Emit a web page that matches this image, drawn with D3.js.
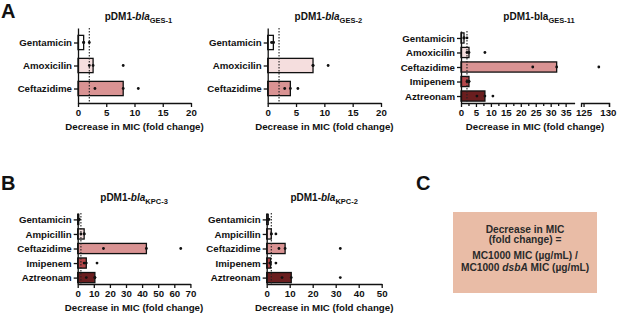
<!DOCTYPE html>
<html>
<head>
<meta charset="utf-8">
<script src="https://cdn.jsdelivr.net/npm/d3@7"></script>
<style>
  body { margin: 0; background: #fff; }
  svg text { font-family: "Liberation Sans", Arial, sans-serif; font-weight: bold; fill: #111; }
</style>
</head>
<body>
<svg id="fig" width="617" height="313"></svg>
<script>
// --- Datos ---
const gesDrugs = ["Gentamicin", "Amoxicilin", "Ceftazidime"];
const ges11Drugs = ["Gentamicin", "Amoxicilin", "Ceftazidime", "Imipenem", "Aztreonam"];
const kpcDrugs = ["Gentamicin", "Ampicillin", "Ceftazidime", "Imipenem", "Aztreonam"];

const ges1Median = [1, 2.67, 8];
const ges1Points = [[1, 1, 2], [2, 2.67, 8], [3, 8, 10.67]];

const ges2Median = [1, 8, 4];
const ges2Points = [[0.67, 1, 1], [8, 8, 10.67], [3, 4, 5.33]];

const ges11Median = [1, 2.67, 32, 2.67, 8];
const ges11Points = [[1, 1, 2], [2, 2.67, 8], [24, 32, 128], [2, 2.67, 2.67], [5.33, 8, 10.67]];

const kpc3Median = [0.67, 4, 42.67, 5.33, 10.67];
const kpc3Points = [[0.5, 0.67, 1], [2, 4, 4], [16, 42.67, 64], [4, 5.33, 12], [5.33, 10.67, 10.67]];

const kpc2Median = [0.67, 2, 8, 1.67, 10.67];
const kpc2Points = [[0.5, 0.67, 1], [2, 2, 4], [5.33, 8, 32], [1.33, 1.67, 4], [6.67, 10.67, 32]];

const ticks20 = [0, 5, 10, 15, 20];
const ticks70 = [0, 10, 20, 30, 40, 50, 60, 70];
const ticks50 = [0, 10, 20, 30, 40, 50];
const ticksLow = [0, 5, 10, 15, 20, 25, 30, 35];
const ticksHigh = [125, 130];
const cutoff = 2;

const fillByDrug = {
    Gentamicin: "#ffffff",
    Amoxicilin: "#f5dede",
    Ampicillin: "#f5dede",
    Ceftazidime: "#d99393",
    Imipenem: "#b4474a",
    Aztreonam: "#6a1e1f"
};

const svg = d3.select("#fig");

// --- Panel genérico ---
function drawPanel(cfg) {
    const g = svg.append("g");

    const y = d3.scalePoint()
        .domain(cfg.drugs)
        .range([cfg.top, cfg.bottom])
        .padding(cfg.pad);
    const barH = y.step() * cfg.barFrac;

    // escala x (con corte opcional)
    const x1 = d3.scaleLinear().domain(cfg.domain).range([cfg.left, cfg.right]);
    const x2 = cfg.domain2 ? d3.scaleLinear().domain(cfg.domain2).range(cfg.range2) : null;
    const xv = v => (x2 && v > cfg.domain[1]) ? x2(v) : x1(v);

    // barras
    g.selectAll("rect.bar")
        .data(cfg.drugs)
        .enter().append("rect")
        .attr("x", x1(0))
        .attr("y", d => y(d) - barH / 2)
        .attr("width", (d, i) => xv(cfg.median[i]) - x1(0))
        .attr("height", barH)
        .attr("fill", d => fillByDrug[d])
        .attr("stroke", "#111")
        .attr("stroke-width", 1.3);

    // línea de corte
    g.append("line")
        .attr("x1", x1(cutoff)).attr("x2", x1(cutoff))
        .attr("y1", cfg.top).attr("y2", cfg.bottom)
        .attr("stroke", "#222")
        .attr("stroke-width", 1.1)
        .attr("stroke-dasharray", "1.5,1.5");

    // puntos individuales
    const pts = [];
    cfg.points.forEach((arr, i) => arr.forEach(v => pts.push({ d: cfg.drugs[i], v })));
    g.selectAll("circle.pt")
        .data(pts)
        .enter().append("circle")
        .attr("cx", p => xv(p.v))
        .attr("cy", p => y(p.d))
        .attr("r", 1.4)
        .attr("fill", "#111");

    // ejes
    const yAxis = g.append("g")
        .attr("transform", `translate(${cfg.left},0)`)
        .call(d3.axisLeft(y).tickSize(4).tickSizeOuter(0).tickPadding(2));
    yAxis.selectAll("text").style("font-size", "9.7px");

    const xAxis = g.append("g")
        .attr("transform", `translate(0,${cfg.bottom})`)
        .call(d3.axisBottom(x1).tickValues(cfg.ticks).tickSize(4).tickSizeOuter(0).tickPadding(2));
    xAxis.selectAll("text").style("font-size", "9.7px");

    if (cfg.minor) {
        g.append("g")
            .attr("transform", `translate(0,${cfg.bottom})`)
            .call(d3.axisBottom(x1).tickValues(cfg.minor).tickSize(3).tickSizeOuter(0).tickFormat(""))
            .select(".domain").remove();
    }
    if (x2) {
        const xAxis2 = g.append("g")
            .attr("transform", `translate(0,${cfg.bottom})`)
            .call(d3.axisBottom(x2).tickValues(cfg.ticks2).tickFormat(d3.format("d"))
                .tickSize(4).tickSizeOuter(4).tickPadding(2));
        xAxis2.selectAll("text").style("font-size", "9.7px");
        // la última etiqueta queda pegada al borde
        xAxis2.selectAll(".tick:last-of-type text").attr("text-anchor", "end").attr("dx", 7);
    }

    g.selectAll(".domain, .tick line").attr("stroke", "#111").attr("stroke-width", 1.3);
    g.selectAll(".tick text").attr("fill", "#111");

    // título del eje
    const axEnd = x2 ? cfg.range2[1] : cfg.right;
    g.append("text")
        .attr("x", (cfg.left + axEnd) / 2)
        .attr("y", cfg.bottom + 27)
        .attr("text-anchor", "middle")
        .style("font-size", "9.7px")
        .text("Decrease in MIC (fold change)");

    // título
    const t = g.append("text")
        .attr("x", (cfg.left + axEnd) / 2 + cfg.titleShift)
        .attr("y", cfg.titleY)
        .attr("text-anchor", "middle")
        .style("font-size", "10px");
    t.append("tspan").text("pDM1-");
    t.append("tspan").style("font-style", cfg.italic ? "italic" : "normal").text("bla");
    t.append("tspan").attr("dy", 3).style("font-size", "7.5px").text(cfg.gene);
}

drawPanel({ drugs: gesDrugs, median: ges1Median, points: ges1Points, gene: "GES-1", italic: true,
    left: 78, right: 191, top: 28, bottom: 103, pad: 0.63, barFrac: 0.62,
    domain: [0, 20], ticks: ticks20, titleY: 20, titleShift: 4 });

drawPanel({ drugs: gesDrugs, median: ges2Median, points: ges2Points, gene: "GES-2", italic: true,
    left: 267.7, right: 381, top: 28, bottom: 103, pad: 0.63, barFrac: 0.62,
    domain: [0, 20], ticks: ticks20, titleY: 20, titleShift: 4 });

drawPanel({ drugs: ges11Drugs, median: ges11Median, points: ges11Points, gene: "GES-11", italic: false,
    left: 461, right: 574.6, top: 31, bottom: 103, pad: 0.48, barFrac: 0.7,
    domain: [0, 38], ticks: ticksLow, minor: [2.5, 7.5, 12.5, 17.5, 22.5, 27.5, 32.5],
    domain2: [124.5, 130], range2: [581, 609], ticks2: ticksHigh, titleY: 20, titleShift: 4 });

drawPanel({ drugs: kpcDrugs, median: kpc3Median, points: kpc3Points, gene: "KPC-3", italic: true,
    left: 77.7, right: 190.4, top: 213, bottom: 284, pad: 0.44, barFrac: 0.7,
    domain: [0, 70], ticks: ticks70, titleY: 201, titleShift: 0 });

drawPanel({ drugs: kpcDrugs, median: kpc2Median, points: kpc2Points, gene: "KPC-2", italic: true,
    left: 266.7, right: 381.7, top: 213, bottom: 284, pad: 0.44, barFrac: 0.7,
    domain: [0, 50], ticks: ticks50, titleY: 201, titleShift: 0 });

// --- Letras de panel ---
[["A", 1, 18], ["B", 1, 190], ["C", 416, 190]].forEach(([l, x, yy]) => {
    svg.append("text").attr("x", x).attr("y", yy).style("font-size", "20px").text(l);
});

// --- Panel C: definición ---
svg.append("rect")
    .attr("x", 453).attr("y", 212)
    .attr("width", 144).attr("height", 81)
    .attr("fill", "#e9bca6");

const boxLines = [
    { y: 232.5, parts: [["Decrease in MIC", false]] },
    { y: 243, parts: [["(fold change) =", false]] },
    { y: 259, parts: [["MC1000 MIC (µg/mL) /", false]] },
    { y: 271, parts: [["MC1000 ", false], ["dsbA", true], [" MIC (µg/mL)", false]] }
];
boxLines.forEach(line => {
    const t = svg.append("text")
        .attr("x", 525).attr("y", line.y)
        .attr("text-anchor", "middle")
        .style("font-size", "10.2px")
        .style("fill", "#2a2a2a");
    line.parts.forEach(([s, it]) => {
        t.append("tspan").style("font-style", it ? "italic" : "normal").text(s);
    });
});
</script>
</body>
</html>
